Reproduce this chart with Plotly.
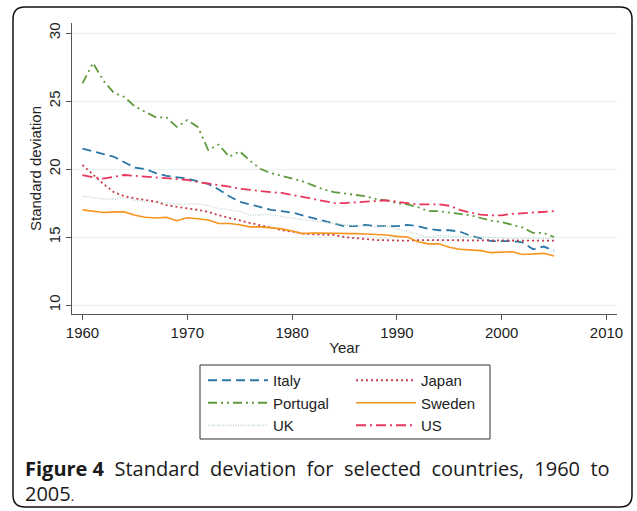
import plotly.graph_objects as go

years = list(range(1960, 2006))

italy = [21.5, 21.3, 21.1, 20.9, 20.5, 20.1, 20.0, 19.7, 19.5, 19.4,
         19.3, 19.1, 18.9, 18.5, 18.0, 17.6, 17.4, 17.2, 17.0, 16.9,
         16.8, 16.6, 16.4, 16.2, 16.0, 15.8, 15.8, 15.9, 15.8, 15.8,
         15.8, 15.9, 15.8, 15.6, 15.5, 15.5, 15.4, 15.1, 14.9, 14.7,
         14.7, 14.7, 14.6, 14.1, 14.3, 14.0]
japan = [20.3, 19.6, 18.9, 18.3, 18.0, 17.85, 17.7, 17.6, 17.35, 17.2,
         17.1, 17.0, 16.85, 16.6, 16.4, 16.2, 16.0, 15.85, 15.7, 15.5,
         15.4, 15.27, 15.2, 15.2, 15.15, 15.0, 14.95, 14.85, 14.78, 14.75,
         14.75, 14.73, 14.78, 14.78, 14.78, 14.78, 14.78, 14.75, 14.75, 14.75,
         14.73, 14.73, 14.73, 14.73, 14.73, 14.73]
portugal = [26.3, 27.8, 26.5, 25.6, 25.3, 24.6, 24.2, 23.8, 23.8, 23.1,
            23.6, 23.1, 21.4, 21.8, 20.9, 21.3, 20.6, 20.0, 19.7, 19.5,
            19.3, 19.1, 18.8, 18.5, 18.3, 18.2, 18.1, 18.0, 17.8, 17.7,
            17.5, 17.4, 17.2, 16.9, 16.9, 16.8, 16.7, 16.6, 16.4, 16.2,
            16.1, 15.9, 15.7, 15.3, 15.3, 15.0]
sweden = [17.0, 16.9, 16.8, 16.85, 16.85, 16.6, 16.45, 16.4, 16.45, 16.2,
          16.42, 16.35, 16.25, 16.0, 16.0, 15.9, 15.75, 15.75, 15.7, 15.6,
          15.45, 15.25, 15.3, 15.3, 15.27, 15.25, 15.25, 15.22, 15.2, 15.15,
          15.05, 15.0, 14.65, 14.5, 14.5, 14.25, 14.1, 14.05, 14.0, 13.85,
          13.9, 13.92, 13.72, 13.75, 13.8, 13.6]
uk = [18.0, 17.9, 17.8, 17.8, 17.9, 17.7, 17.65, 17.6, 17.5, 17.4,
      17.45, 17.45, 17.3, 17.1, 17.0, 16.9, 16.6, 16.65, 16.65, 16.5,
      16.4, 16.25, 16.15, 16.05, 16.0, 15.9, 15.85, 15.8, 15.75, 15.8,
      15.6, 15.45, 15.2, 15.0, 15.1, 15.05, 15.0, 15.0, 15.0, 14.95,
      14.95, 14.9, 14.9, 14.9, 14.9, 14.9]
us = [19.56, 19.4, 19.3, 19.45, 19.56, 19.5, 19.45, 19.4, 19.35, 19.3,
      19.2, 19.05, 18.95, 18.8, 18.7, 18.55, 18.45, 18.35, 18.3, 18.25,
      18.1, 17.95, 17.8, 17.6, 17.5, 17.5, 17.55, 17.6, 17.65, 17.7,
      17.6, 17.5, 17.4, 17.4, 17.4, 17.3, 17.0, 16.8, 16.65, 16.6,
      16.6, 16.7, 16.75, 16.8, 16.85, 16.9]

x_ticks = [1960, 1970, 1980, 1990, 2000, 2010]
y_ticks = [10, 15, 20, 25, 30]

# name, values, colour, dash, width, legend column
series = [
    ("Italy", italy, "#2a76a4", "9px,5px", 1.8, "legend"),
    ("Portugal", portugal, "#5f9a3c", "9px,4px,2px,4px,2px,4px", 1.8, "legend"),
    ("UK", uk, "#bdd5d0", "1px,1.5px", 1.4, "legend"),
    ("Japan", japan, "#c83c4c", "2px,3px", 1.8, "legend2"),
    ("Sweden", sweden, "#f7941d", "solid", 1.6, "legend2"),
    ("US", us, "#e8375c", "10px,4px,2px,4px", 1.8, "legend2"),
]

fig = go.Figure()
for name, vals, color, dash, w, leg in series:
    fig.add_trace(go.Scatter(x=years, y=vals, mode="lines", name=name,
                             legend=leg,
                             line=dict(color=color, dash=dash, width=w)))

L, R, T, B = 72, 20, 23, 197
W, H = 637, 511
pw, ph = W - L - R, H - T - B

def px_to_paper_x(px):
    return (px - L) / pw

def px_to_paper_y(py):
    return (H - B - py) / ph

axis_font = dict(family="Liberation Sans, Arial, sans-serif", size=15, color="#222")
leg_font = dict(family="Liberation Sans, Arial, sans-serif", size=15, color="#222")

fig.update_layout(
    width=W, height=H,
    margin=dict(l=L, r=R, t=T, b=B, autoexpand=False),
    paper_bgcolor="white", plot_bgcolor="white",
    showlegend=True,
    legend=dict(
        orientation="v",
        x=px_to_paper_x(203), y=px_to_paper_y(364),
        xanchor="left", yanchor="top",
        itemwidth=60, bgcolor="rgba(0,0,0,0)", borderwidth=0,
        font=leg_font, tracegroupgap=0,
    ),
    legend2=dict(
        orientation="v",
        x=px_to_paper_x(351), y=px_to_paper_y(364),
        xanchor="left", yanchor="top",
        itemwidth=60, bgcolor="rgba(0,0,0,0)", borderwidth=0,
        font=leg_font, tracegroupgap=0,
    ),
    xaxis=dict(
        range=[1959.0, 2011.0],
        tickvals=x_ticks, ticktext=[str(t) for t in x_ticks],
        showgrid=False, zeroline=False,
        showline=True, linecolor="#555", linewidth=1.2,
        ticks="outside", ticklen=5, tickcolor="#555",
        tickfont=axis_font,
        title=dict(text="Year", font=axis_font, standoff=2),
    ),
    yaxis=dict(
        range=[9.34, 30.74],
        tickvals=y_ticks, ticktext=[str(t) for t in y_ticks],
        tickangle=-90,
        showgrid=True, gridcolor="#e6f1f2", gridwidth=1,
        zeroline=False,
        showline=True, linecolor="#555", linewidth=1.2,
        ticks="outside", ticklen=5, tickcolor="#555",
        tickfont=axis_font,
        title=dict(text="Standard deviation", font=axis_font, standoff=0),
    ),
)

# Legend box
fig.add_shape(type="rect", xref="paper", yref="paper",
              x0=px_to_paper_x(200), x1=px_to_paper_x(490),
              y0=px_to_paper_y(439), y1=px_to_paper_y(365),
              line=dict(color="#333", width=1))

# Outer rounded border
x0, x1 = px_to_paper_x(13), px_to_paper_x(632)
y0, y1 = px_to_paper_y(507), px_to_paper_y(7)
rx = 12 / pw
ry = 12 / ph
path = (f"M {x0+rx},{y1} L {x1-rx},{y1} Q {x1},{y1} {x1},{y1-ry} "
        f"L {x1},{y0+ry} Q {x1},{y0} {x1-rx},{y0} "
        f"L {x0+rx},{y0} Q {x0},{y0} {x0},{y0+ry} "
        f"L {x0},{y1-ry} Q {x0},{y1} {x0+rx},{y1} Z")
fig.add_shape(type="path", path=path, xref="paper", yref="paper",
              line=dict(color="#111", width=1.5), layer="below")

cap_font = dict(family="Open Sans, Noto Sans, sans-serif", size=20, color="#1a1a1a")
cap_words = ["<b>Figure&nbsp;4</b>", "Standard", "deviation", "for", "selected",
             "countries,", "1960", "to"]
line1 = " &nbsp;".join(cap_words)
fig.add_annotation(
    text=line1,
    xref="paper", yref="paper",
    x=px_to_paper_x(23), y=px_to_paper_y(469),
    xanchor="left", yanchor="middle", showarrow=False, font=cap_font,
)
fig.add_annotation(
    text="2005<span style='font-size:13px'>.</span>",
    xref="paper", yref="paper",
    x=px_to_paper_x(23), y=px_to_paper_y(493),
    xanchor="left", yanchor="middle", showarrow=False, font=cap_font,
)

fig.write_html("out.html",
               config={"displayModeBar": False},
               post_script="document.body.style.margin='0px';document.body.style.overflow='hidden';")
